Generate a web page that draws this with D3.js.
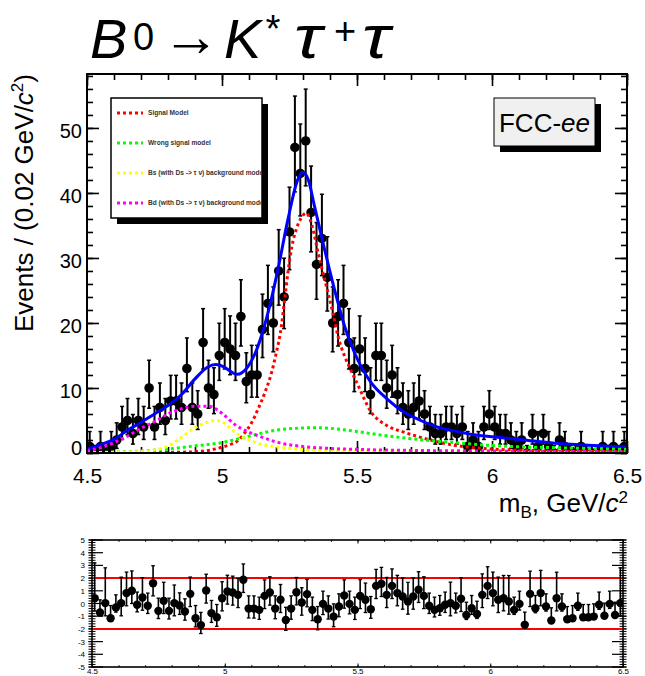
<!DOCTYPE html>
<html><head><meta charset="utf-8">
<script src="https://cdn.jsdelivr.net/npm/d3@7"></script>
<style>body{margin:0;background:#fff}svg{display:block}</style>
</head><body><svg id="c" width="645" height="676"></svg>
<script>
// ---------------- data ----------------
const binLo = 4.5, binHi = 6.5, nBins = 100;
const counts = [1,0,1,0,1,2,4,5,3,5, 4,10,4,7,5,8,8,7,13,7,
  6,17,10,9,15,17,16,15,21,11, 12,12,19,23,20,28,24,34,47,43,
  48,37,29,33,27,20,21,23,17,13, 16,13,9,15,15,10,12,9,7,6,
  7,8,6,4,3,3,4,4,3,4, 1,2,1,4,6,4,3,3,2,1,
  2,0,3,1,3,1,0,2,1,0, 0,1,0,0,0,1,0,1,0,1];
const pulls = [0.42,-0.71,0.03,-1.16,-0.32,0.03,0.82,1.0,-0.1,0.47,
  -0.18,1.6,-0.58,0.21,-0.58,0.03,-0.16,-0.63,0.76,-1.16,
  -1.7,1.03,-0.76,-1.08,0.42,0.95,0.87,0.68,1.87,-0.4,
  -0.4,-0.5,0.6,0.87,-0.4,0.29,-1.3,-0.4,0.89,0.08,
  0.74,-0.5,-1.24,-0.03,-0.4,-1.03,-0.24,0.63,-0.03,-0.5,
  0.6,0.29,-0.45,1.39,1.55,0.68,1.39,0.82,0.55,0.16,
  0.55,1.08,0.6,-0.18,-0.5,-0.37,-0.1,0.03,-0.18,0.37,
  -0.9,-0.37,-0.82,0.68,1.39,0.82,0.29,0.42,0.16,-0.5,
  -0.03,-1.68,0.76,-0.37,0.82,-0.24,-1.34,0.42,-0.24,-1.24,
  -1.16,-0.18,-1.08,-1.08,-1.03,-0.1,-0.97,-0.03,-0.9,0.03];

const totalX = [4.5,4.55,4.6,4.65,4.7,4.75,4.8,4.85,4.9,4.946,4.977,5.005,5.03,5.055,5.096,5.133,5.17,5.207,5.244,5.281,5.3,5.319,5.343,5.38,5.417,5.454,5.49,5.551,5.612,5.674,5.736,5.797,5.859,5.921,6.0,6.109,6.232,6.356,6.5];
const totalY = [0.6,1.3,2.1,3.5,4.7,6.0,7.3,9.0,11.4,13.2,13.6,13.3,12.6,12.1,13.3,16.4,21.5,28.2,35.9,42.1,43.2,42.1,37.9,31.3,25.1,19.5,15.5,10.9,8.3,6.3,5.0,4.0,3.4,2.9,2.5,2.05,1.5,1.2,0.9];

const sigX = [4.5,4.7,4.85,4.9,4.95,5.0,5.03,5.059,5.084,5.109,5.133,5.158,5.183,5.201,5.22,5.232,5.244,5.259,5.275,5.294,5.312,5.337,5.356,5.374,5.393,5.411,5.43,5.454,5.479,5.504,5.551,5.612,5.674,5.736,5.797,5.859,5.921,6.0,6.1,6.2,6.3,6.5];
const sigY = [0.0,0.05,0.12,0.2,0.4,0.9,1.3,1.9,3.1,4.6,6.7,9.2,12.3,15.4,19.5,23.6,27.7,31.8,34.4,36.2,36.9,34.4,30.8,27.7,24.6,21.5,17.9,14.9,12.6,10.4,6.4,4.2,3.2,2.4,1.75,1.2,0.87,0.6,0.45,0.35,0.28,0.2];

const wrongX = [4.5,4.6,4.7,4.8,4.9,5.0,5.1,5.2,5.3,5.35,5.4,5.5,5.6,5.7,5.8,5.9,6.0,6.1,6.2,6.3,6.4,6.5];
const wrongY = [0.05,0.15,0.3,0.6,1.1,1.6,2.6,3.5,3.85,3.9,3.8,3.3,2.7,2.2,1.8,1.45,1.15,0.95,0.85,0.75,0.65,0.55];

const bsX = [4.5,4.6,4.7,4.75,4.8,4.85,4.9,4.95,4.975,5.0,5.05,5.1,5.15,5.2,5.3,5.4,5.5,5.7,6.0,6.5];
const bsY = [0.05,0.1,0.25,0.45,1.05,2.4,3.9,4.8,5.0,4.8,3.1,2.0,1.3,0.95,0.55,0.35,0.25,0.15,0.1,0.05];

const bdX = [4.5,4.55,4.6,4.65,4.7,4.75,4.8,4.85,4.9,4.95,5.0,5.05,5.1,5.15,5.2,5.3,5.4,5.5,5.7,6.0,6.5];
const bdY = [0.4,0.8,1.6,2.6,3.8,4.8,6.0,6.8,7.2,7.2,6.1,4.3,3.2,2.4,1.7,1.0,0.7,0.55,0.4,0.3,0.2];

const xTicks = [4.5,5,5.5,6,6.5];
const yTicks = [0,10,20,30,40,50];
const pullTicks = [-5,-4,-3,-2,-1,0,1,2,3,4,5];
const legendItems = [
  {label:"Signal Model", color:"#ff0000"},
  {label:"Wrong signal model", color:"#00ff00"},
  {label:"Bs (with Ds -> \u03c4 \u03bd) background model", color:"#ffff00"},
  {label:"Bd (with Ds -> \u03c4 \u03bd) background model", color:"#ff00ff"}
];

// ---------------- helpers ----------------
const FONT = "'Liberation Sans', Arial, Helvetica, sans-serif";
const binW = (binHi-binLo)/nBins;
const centers = d3.range(nBins).map(i => binLo + (i+0.5)*binW);

function poisCdf(k, mu){ let s=0, t=Math.exp(-mu); for(let j=0;j<=k;j++){ if(j>0) t*=mu/j; s+=t; } return s; }
function poisInterval(n){
  if(n===0) return [0, 1.1479];
  const a = 0.158655;
  let lo=n, hi=n+10*Math.sqrt(n)+10;
  for(let it=0;it<60;it++){ const m=(lo+hi)/2; if(poisCdf(n,m)>a) lo=m; else hi=m; }
  const up=(lo+hi)/2;
  lo=0; hi=n;
  for(let it=0;it<60;it++){ const m=(lo+hi)/2; if(poisCdf(n-1,m)>1-a) lo=m; else hi=m; }
  return [(lo+hi)/2, up];
}

const svg = d3.select("#c");
svg.append("rect").attr("width",645).attr("height",676).attr("fill","#fff");

// ---------------- main panel ----------------
const M = {l:87, r:627, t:74, b:453};
const x = d3.scaleLinear().domain([binLo,binHi]).range([M.l,M.r]);
const y = d3.scaleLinear().domain([0,58.3]).range([M.b,M.t]);

svg.append("clipPath").attr("id","clipMain").append("rect")
  .attr("x",M.l).attr("y",M.t).attr("width",M.r-M.l).attr("height",M.b-M.t);

function styleAxis(g){ g.select(".domain").remove(); g.selectAll("line").attr("stroke","#000").attr("stroke-width",1.6); }

const xMinor = d3.range(45,66).map(v=>v/10);
const yMinor = d3.range(0,59,2);

svg.append("g").attr("transform",`translate(0,${M.b})`)
  .call(d3.axisBottom(x).tickValues(xMinor).tickSize(-6).tickFormat("")).call(styleAxis);
const gxb = svg.append("g").attr("transform",`translate(0,${M.b})`)
  .call(d3.axisBottom(x).tickValues(xTicks).tickSize(-12).tickPadding(15).tickFormat(d=>String(d))).call(styleAxis);
gxb.selectAll("text").attr("font-family",FONT).attr("font-size",21).attr("fill","#000");
svg.append("g").attr("transform",`translate(0,${M.t})`)
  .call(d3.axisTop(x).tickValues(xMinor).tickSize(-6).tickFormat("")).call(styleAxis);
svg.append("g").attr("transform",`translate(0,${M.t})`)
  .call(d3.axisTop(x).tickValues(xTicks).tickSize(-12).tickFormat("")).call(styleAxis);
svg.append("g").attr("transform",`translate(${M.l},0)`)
  .call(d3.axisLeft(y).tickValues(yMinor).tickSize(-6).tickFormat("")).call(styleAxis);
const gyl = svg.append("g").attr("transform",`translate(${M.l},0)`)
  .call(d3.axisLeft(y).tickValues(yTicks).tickSize(-12).tickPadding(5).tickFormat(d=>String(d))).call(styleAxis);
gyl.selectAll("text").attr("font-family",FONT).attr("font-size",20).attr("fill","#000").attr("dy","0.5em");
gyl.selectAll(".tick").filter(d=>d===0).select("text").attr("dy","0.05em");
svg.append("g").attr("transform",`translate(${M.r},0)`)
  .call(d3.axisRight(y).tickValues(yMinor).tickSize(-6).tickFormat("")).call(styleAxis);
svg.append("g").attr("transform",`translate(${M.r},0)`)
  .call(d3.axisRight(y).tickValues(yTicks).tickSize(-12).tickFormat("")).call(styleAxis);

// data points
const gData = svg.append("g").attr("clip-path","url(#clipMain)");
counts.forEach((n,i)=>{
  const [lo,hi] = poisInterval(n);
  const cx = x(centers[i]);
  gData.append("line").attr("x1",cx).attr("x2",cx).attr("y1",y(lo)).attr("y2",y(hi))
    .attr("stroke","#000").attr("stroke-width",2);
  [lo,hi].forEach(v=>{ if(v>0) gData.append("line").attr("x1",cx-2).attr("x2",cx+2).attr("y1",y(v)).attr("y2",y(v)).attr("stroke","#000").attr("stroke-width",1.5); });
  gData.append("circle").attr("cx",cx).attr("cy",y(n)).attr("r",4.8).attr("fill","#000");
});

// curves
const lineGen = d3.line().x(d=>x(d[0])).y(d=>y(d[1])).curve(d3.curveMonotoneX);
const gCurves = svg.append("g").attr("clip-path","url(#clipMain)");
gCurves.append("path").attr("d",lineGen(d3.zip(totalX,totalY))).attr("fill","none").attr("stroke","#0000ff").attr("stroke-width",3);
[[sigX,sigY,"#ff0000"],[wrongX,wrongY,"#00ff00"],[bsX,bsY,"#ffff00"],[bdX,bdY,"#ff00ff"]].forEach(([xs,ys,c])=>{
  gCurves.append("path").attr("d",lineGen(d3.zip(xs,ys))).attr("fill","none").attr("stroke",c)
    .attr("stroke-width",3).attr("stroke-dasharray","3 3");
});

svg.append("rect").attr("x",M.l).attr("y",M.t).attr("width",M.r-M.l).attr("height",M.b-M.t)
  .attr("fill","none").attr("stroke","#000").attr("stroke-width",2);

// legend
const L = {x:111, y:98, w:151, h:120};
svg.append("rect").attr("x",L.x+6).attr("y",L.y+6).attr("width",L.w).attr("height",L.h).attr("fill","#000");
svg.append("rect").attr("x",L.x).attr("y",L.y).attr("width",L.w).attr("height",L.h).attr("fill","#fff").attr("stroke","#000").attr("stroke-width",1.5);
svg.append("clipPath").attr("id","clipLeg").append("rect").attr("x",L.x).attr("y",L.y).attr("width",L.w).attr("height",L.h);
const gLeg = svg.append("g").attr("clip-path","url(#clipLeg)");
legendItems.forEach((it,k)=>{
  const yy = 113 + k*30;
  gLeg.append("line").attr("x1",117).attr("x2",143).attr("y1",yy).attr("y2",yy)
    .attr("stroke",it.color).attr("stroke-width",3).attr("stroke-dasharray","3 3");
  gLeg.append("text").attr("x",148).attr("y",yy+2.3).attr("font-family",FONT).attr("font-weight","bold")
    .attr("font-size",6.6).attr("fill","#333").text(it.label);
});

// FCC-ee box
svg.append("rect").attr("x",500).attr("y",104).attr("width",101).attr("height",48).attr("fill","#000");
svg.append("rect").attr("x",494).attr("y",98).attr("width",101).attr("height",48).attr("fill","#f0f0f0").attr("stroke","#000").attr("stroke-width",1);
const fcc = svg.append("text").attr("x",544.5).attr("y",132).attr("text-anchor","middle")
  .attr("font-family",FONT).attr("font-size",26).attr("fill","#000");
fcc.append("tspan").text("FCC-");
fcc.append("tspan").attr("font-style","italic").text("ee");

// title
const tg = svg.append("g").attr("font-family",FONT).attr("fill","#000");
const tparts = [
  {t:"B", x:90, y:58, s:56, i:true, sx:1},
  {t:"0", x:133, y:50, s:38, i:false, sx:1},
  {t:"\u2192", x:162, y:56, s:58, i:false, sx:1},
  {t:"K", x:224, y:58, s:56, i:true, sx:1},
  {t:"*", x:264, y:42, s:38, i:true, sx:1},
  {t:"\u03c4", x:294, y:58, s:62, i:true, sx:1.2},
  {t:"+", x:334, y:44, s:38, i:false, sx:1},
  {t:"\u03c4", x:362, y:58, s:62, i:true, sx:1.2}
];
tparts.forEach(p=>{
  tg.append("text").attr("transform",`translate(${p.x},${p.y}) scale(${p.sx},1)`).attr("font-size",p.s)
    .attr("font-style",p.i?"italic":"normal").text(p.t);
});

// axis titles
const yt = svg.append("text").attr("transform","translate(33,74) rotate(-90)").attr("text-anchor","end")
  .attr("font-family",FONT).attr("font-size",26).attr("fill","#000");
yt.append("tspan").text("Events / (0.02 GeV/");
yt.append("tspan").attr("font-style","italic").text("c");
yt.append("tspan").attr("font-size",17).attr("dy",-10).text("2");
yt.append("tspan").attr("dy",10).text(")");

const xt = svg.append("text").attr("x",628).attr("y",512).attr("text-anchor","end")
  .attr("font-family",FONT).attr("font-size",26).attr("fill","#000");
xt.append("tspan").text("m");
xt.append("tspan").attr("font-size",17).attr("dy",6).text("B");
xt.append("tspan").attr("dy",-6).text(", GeV/");
xt.append("tspan").attr("font-style","italic").text("c");
xt.append("tspan").attr("font-size",17).attr("dy",-9).text("2");

// ---------------- pull panel ----------------
const P = {l:92, r:623, t:540, b:667};
const px = d3.scaleLinear().domain([binLo,binHi]).range([P.l,P.r]);
const py = d3.scaleLinear().domain([-5,5]).range([P.b,P.t]);
svg.append("clipPath").attr("id","clipPull").append("rect")
  .attr("x",P.l).attr("y",P.t).attr("width",P.r-P.l).attr("height",P.b-P.t);

function styleThin(g){ g.select(".domain").remove(); g.selectAll("line").attr("stroke","#000").attr("stroke-width",1); }
const pMinor = d3.range(-50,51,2).map(v=>v/10);
svg.append("g").attr("transform",`translate(0,${P.b})`)
  .call(d3.axisBottom(px).tickValues(xMinor).tickSize(-1.8).tickFormat("")).call(styleThin);
const pxb = svg.append("g").attr("transform",`translate(0,${P.b})`)
  .call(d3.axisBottom(px).tickValues(xTicks).tickSize(-3.5).tickPadding(1).tickFormat(d=>String(d))).call(styleThin);
pxb.selectAll("text").attr("font-family",FONT).attr("font-size",8).attr("fill","#000");
svg.append("g").attr("transform",`translate(0,${P.t})`)
  .call(d3.axisTop(px).tickValues(xMinor).tickSize(-1.8).tickFormat("")).call(styleThin);
svg.append("g").attr("transform",`translate(0,${P.t})`)
  .call(d3.axisTop(px).tickValues(xTicks).tickSize(-3.5).tickFormat("")).call(styleThin);
function yTicksPull(xpos, dir){
  const g = svg.append("g");
  pMinor.forEach(v=>{ g.append("line").attr("x1",xpos-3.5*dir).attr("x2",xpos+3.5*dir).attr("y1",py(v)).attr("y2",py(v)).attr("stroke","#000").attr("stroke-width",1); });
  pullTicks.forEach(v=>{ g.append("line").attr("x1",xpos-3.5*dir).attr("x2",xpos+11*dir).attr("y1",py(v)).attr("y2",py(v)).attr("stroke","#000").attr("stroke-width",1.2); });
}
yTicksPull(P.l,1); yTicksPull(P.r,-1);
const pyl = svg.append("g").attr("transform",`translate(${P.l-4},0)`)
  .call(d3.axisLeft(py).tickValues(pullTicks).tickSize(0).tickPadding(3).tickFormat(d=>String(d))).call(styleThin);
pyl.selectAll("text").attr("font-family",FONT).attr("font-size",8).attr("fill","#000");

[2,-2].forEach(v=>{
  svg.append("line").attr("x1",P.l).attr("x2",P.r).attr("y1",py(v)).attr("y2",py(v)).attr("stroke","#ff0000").attr("stroke-width",2);
});

const gPull = svg.append("g").attr("clip-path","url(#clipPull)");
pulls.forEach((p,i)=>{
  const n = counts[i];
  const [lo,hi] = poisInterval(n);
  const eLo = n-lo, eHi = hi-n;
  let up, dn;
  if(p>=0 && eLo>0){ up = eHi/eLo; dn = 1; } else { up = 1; dn = eLo/eHi; }
  const cx = px(centers[i]);
  gPull.append("line").attr("x1",cx).attr("x2",cx).attr("y1",py(p-dn)).attr("y2",py(p+up)).attr("stroke","#000").attr("stroke-width",1.6);
  [p-dn,p+up].forEach(v=>gPull.append("line").attr("x1",cx-1.8).attr("x2",cx+1.8).attr("y1",py(v)).attr("y2",py(v)).attr("stroke","#000").attr("stroke-width",1.3));
  gPull.append("circle").attr("cx",cx).attr("cy",py(p)).attr("r",4.2).attr("fill","#000");
});

svg.append("rect").attr("x",P.l).attr("y",P.t).attr("width",P.r-P.l).attr("height",P.b-P.t)
  .attr("fill","none").attr("stroke","#000").attr("stroke-width",1.6);
</script>
</body></html>
